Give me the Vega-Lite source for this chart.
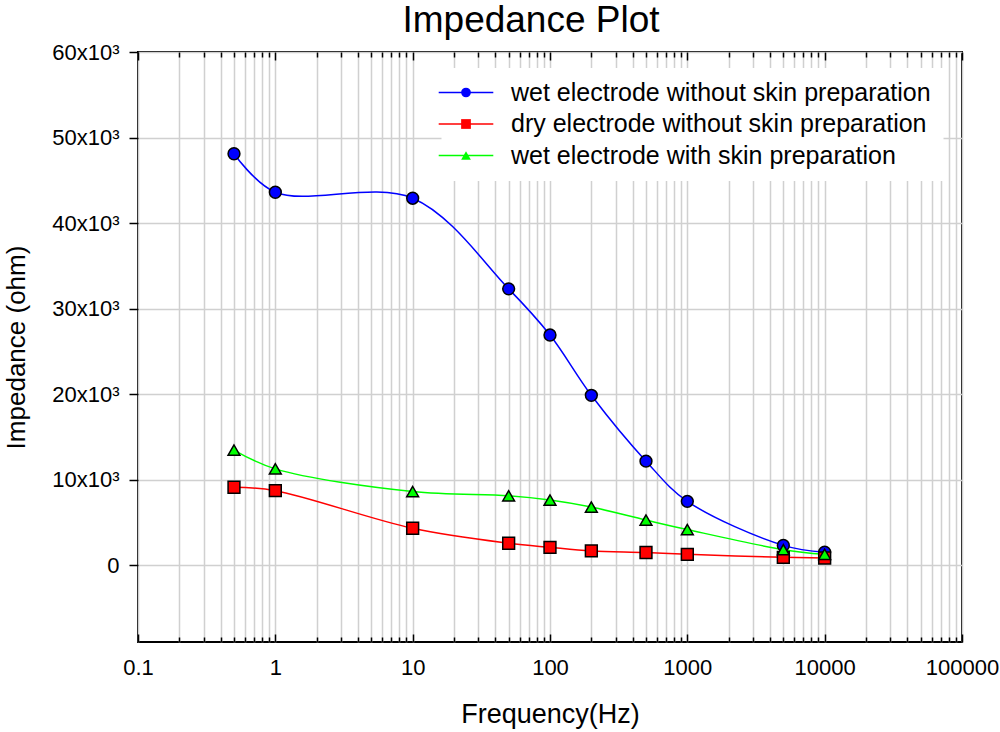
{
  "$schema": "https://vega.github.io/schema/vega-lite/v6.json",
  "width": 824,
  "height": 590,
  "autosize": "none",
  "padding": {"left": 138, "top": 52, "right": 38, "bottom": 90},
  "background": "white",
  "title": {
    "text": "Impedance Plot",
    "fontSize": 37,
    "fontWeight": "normal",
    "font": "Liberation Sans",
    "color": "black",
    "anchor": "middle",
    "dx": -19,
    "offset": 1
  },
  "config": {
    "view": {"stroke": "black", "strokeWidth": 2},
    "axis": {
      "labelFont": "Liberation Sans",
      "titleFont": "Liberation Sans",
      "labelColor": "black",
      "titleColor": "black",
      "titleFontWeight": "normal",
      "gridColor": "#d0d0d0",
      "gridWidth": 1.5,
      "tickColor": "black",
      "tickWidth": 1.5,
      "domain": false
    },
    "legend": {"labelFont": "Liberation Sans", "labelColor": "black"}
  },
  "data": {
    "values": [
      {"freq": 0.5, "imp": 48100, "series": "wet electrode without skin preparation", "marker": "wet electrode without skin preparation"},
      {"freq": 1, "imp": 43600, "series": "wet electrode without skin preparation", "marker": "wet electrode without skin preparation"},
      {"freq": 10, "imp": 42900, "series": "wet electrode without skin preparation", "marker": "wet electrode without skin preparation"},
      {"freq": 50, "imp": 32300, "series": "wet electrode without skin preparation", "marker": "wet electrode without skin preparation"},
      {"freq": 100, "imp": 26900, "series": "wet electrode without skin preparation", "marker": "wet electrode without skin preparation"},
      {"freq": 200, "imp": 19850, "series": "wet electrode without skin preparation", "marker": "wet electrode without skin preparation"},
      {"freq": 500, "imp": 12150, "series": "wet electrode without skin preparation", "marker": "wet electrode without skin preparation"},
      {"freq": 1000, "imp": 7450, "series": "wet electrode without skin preparation", "marker": "wet electrode without skin preparation"},
      {"freq": 5000, "imp": 2300, "series": "wet electrode without skin preparation", "marker": "wet electrode without skin preparation"},
      {"freq": 10000, "imp": 1500, "series": "wet electrode without skin preparation", "marker": "wet electrode without skin preparation"},
      {"freq": 0.5, "imp": 9100, "series": "dry electrode without skin preparation", "marker": "dry electrode without skin preparation"},
      {"freq": 1, "imp": 8700, "series": "dry electrode without skin preparation", "marker": "dry electrode without skin preparation"},
      {"freq": 10, "imp": 4300, "series": "dry electrode without skin preparation", "marker": "dry electrode without skin preparation"},
      {"freq": 50, "imp": 2550, "series": "dry electrode without skin preparation", "marker": "dry electrode without skin preparation"},
      {"freq": 100, "imp": 2070, "series": "dry electrode without skin preparation", "marker": "dry electrode without skin preparation"},
      {"freq": 200, "imp": 1650, "series": "dry electrode without skin preparation", "marker": "dry electrode without skin preparation"},
      {"freq": 500, "imp": 1470, "series": "dry electrode without skin preparation", "marker": "dry electrode without skin preparation"},
      {"freq": 1000, "imp": 1250, "series": "dry electrode without skin preparation", "marker": "dry electrode without skin preparation"},
      {"freq": 5000, "imp": 900, "series": "dry electrode without skin preparation", "marker": "dry electrode without skin preparation"},
      {"freq": 10000, "imp": 820, "series": "dry electrode without skin preparation", "marker": "dry electrode without skin preparation"},
      {"freq": 0.5, "imp": 13450, "series": "wet electrode with skin preparation", "marker": "wet electrode with skin preparation"},
      {"freq": 1, "imp": 11250, "series": "wet electrode with skin preparation", "marker": "wet electrode with skin preparation"},
      {"freq": 10, "imp": 8600, "series": "wet electrode with skin preparation", "marker": "wet electrode with skin preparation"},
      {"freq": 50, "imp": 8100, "series": "wet electrode with skin preparation", "marker": "wet electrode with skin preparation"},
      {"freq": 100, "imp": 7600, "series": "wet electrode with skin preparation", "marker": "wet electrode with skin preparation"},
      {"freq": 200, "imp": 6780, "series": "wet electrode with skin preparation", "marker": "wet electrode with skin preparation"},
      {"freq": 500, "imp": 5260, "series": "wet electrode with skin preparation", "marker": "wet electrode with skin preparation"},
      {"freq": 1000, "imp": 4150, "series": "wet electrode with skin preparation", "marker": "wet electrode with skin preparation"},
      {"freq": 5000, "imp": 1800, "series": "wet electrode with skin preparation", "marker": "wet electrode with skin preparation"},
      {"freq": 10000, "imp": 1250, "series": "wet electrode with skin preparation", "marker": "wet electrode with skin preparation"}
    ]
  },
  "resolve": {"axis": {"x": "independent"}},
  "encoding": {
    "y": {
      "field": "imp",
      "type": "quantitative",
      "scale": {"domain": [-9000, 60000], "nice": false, "zero": false},
      "axis": {
        "title": "Impedance (ohm)",
        "titleFontSize": 26,
        "titlePadding": 22,
        "labelFontSize": 22,
        "labelPadding": 10,
        "tickSize": 9,
        "grid": true,
        "values": [0, 10000, 20000, 30000, 40000, 50000, 60000],
        "labelExpr": "datum.value == 0 ? '0' : (datum.value / 1000) + 'x10³'"
      }
    }
  },
  "layer": [
    {
      "mark": {"type": "line", "interpolate": "catmull-rom", "strokeWidth": 1.5},
      "encoding": {
        "x": {
          "field": "freq",
          "type": "quantitative",
          "scale": {"type": "log", "domain": [0.1, 100000], "nice": false},
          "axis": {
            "orient": "bottom",
            "title": "Frequency(Hz)",
            "titleFontSize": 27,
            "titlePadding": 20,
            "labelFontSize": 22,
            "labelPadding": 23,
            "labelExpr": "abs(log(datum.value) / LN10 - round(log(datum.value) / LN10)) < 0.001 ? '' + datum.value : ''",
            "labelOverlap": false,
            "labelFlush": false,
            "grid": true,
            "tickSize": {"condition": {"test": "abs(log(datum.value) / LN10 - round(log(datum.value) / LN10)) < 0.001", "value": -8}, "value": -5},
            "values": [0.1, 0.2, 0.3, 0.4, 0.5, 0.6, 0.7, 0.8, 0.9, 1, 2, 3, 4, 5, 6, 7, 8, 9, 10, 20, 30, 40, 50, 60, 70, 80, 90, 100, 200, 300, 400, 500, 600, 700, 800, 900, 1000, 2000, 3000, 4000, 5000, 6000, 7000, 8000, 9000, 10000, 20000, 30000, 40000, 50000, 60000, 70000, 80000, 90000, 100000]
          }
        },
        "stroke": {
          "field": "series",
          "type": "nominal",
          "sort": ["wet electrode without skin preparation", "dry electrode without skin preparation", "wet electrode with skin preparation"],
          "scale": {"range": ["#0000ff", "#ff0000", "#00ff00"]},
          "legend": {
            "title": null,
            "orient": "none",
            "legendX": 303.5,
            "legendY": 16,
            "padding": 12,
            "fillColor": "white",
            "symbolType": "M-4.2,0H4.2",
            "symbolSize": 169,
            "symbolStrokeWidth": 1.5,
            "labelFontSize": 25,
            "labelOffset": 32.5,
            "labelLimit": 600,
            "rowPadding": 5.5
          }
        }
      }
    },
    {
      "mark": {"type": "point", "filled": true, "size": 140, "stroke": "black", "strokeWidth": 1.5, "opacity": 1},
      "encoding": {
        "x": {
          "field": "freq",
          "type": "quantitative",
          "axis": {
            "orient": "top",
            "title": null,
            "labels": false,
            "grid": false,
            "tickSize": {"condition": {"test": "abs(log(datum.value) / LN10 - round(log(datum.value) / LN10)) < 0.001", "value": -8}, "value": -5},
            "values": [0.1, 0.2, 0.3, 0.4, 0.5, 0.6, 0.7, 0.8, 0.9, 1, 2, 3, 4, 5, 6, 7, 8, 9, 10, 20, 30, 40, 50, 60, 70, 80, 90, 100, 200, 300, 400, 500, 600, 700, 800, 900, 1000, 2000, 3000, 4000, 5000, 6000, 7000, 8000, 9000, 10000, 20000, 30000, 40000, 50000, 60000, 70000, 80000, 90000, 100000]
          }
        },
        "fill": {
          "field": "marker",
          "type": "nominal",
          "scale": {
            "domain": ["wet electrode without skin preparation", "dry electrode without skin preparation", "wet electrode with skin preparation"],
            "range": ["#0000ff", "#ff0000", "#00ff00"]
          },
          "legend": {
            "title": null,
            "orient": "none",
            "legendX": 303.5,
            "legendY": 16,
            "padding": 12,
            "symbolSize": 95,
            "symbolStrokeColor": "black",
            "symbolStrokeWidth": 1.5,
            "labelFontSize": 25,
            "labelExpr": "''",
            "rowPadding": 5.5,
            "encode": {"symbols": {"stroke": {"value": "black"}, "strokeWidth": {"value": 1.5}}}
          }
        },
        "shape": {
          "field": "marker",
          "type": "nominal",
          "scale": {
            "domain": ["wet electrode without skin preparation", "dry electrode without skin preparation", "wet electrode with skin preparation"],
            "range": ["circle", "square", "triangle-up"]
          },
          "legend": {
            "title": null,
            "orient": "none",
            "legendX": 303.5,
            "legendY": 16,
            "padding": 12,
            "symbolSize": 95,
            "symbolStrokeColor": "black",
            "symbolStrokeWidth": 1.5,
            "labelFontSize": 25,
            "labelExpr": "''",
            "rowPadding": 5.5,
            "encode": {"symbols": {"stroke": {"value": "black"}, "strokeWidth": {"value": 1.5}}}
          }
        }
      }
    }
  ]
}
